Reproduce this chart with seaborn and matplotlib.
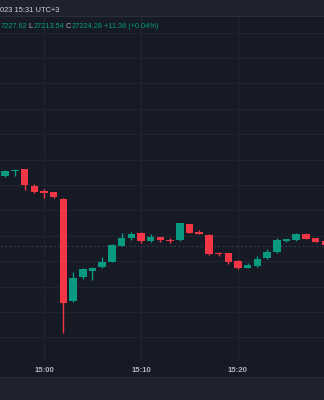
import matplotlib
matplotlib.use("Agg")
import matplotlib.pyplot as plt
from matplotlib.patches import Rectangle
from matplotlib.lines import Line2D
import seaborn as sns
import pandas as pd

# ---- data (minutes relative to 15:00, 1-minute candles) ----
minutes = list(range(-4, 30))
opens = [27233.5, 27235.3, 27236.3, 27229.6, 27227.6, 27227.2, 27224.5, 27184.3,
         27193.8, 27196.1, 27197.7, 27199.7, 27206.0, 27209.1, 27211.1, 27207.9,
         27209.5, 27208.3, 27208.3, 27214.6, 27211.5, 27210.3, 27203.2, 27203.2,
         27200.1, 27197.5, 27198.1, 27201.3, 27203.6, 27208.1, 27208.3, 27210.7,
         27209.1, 27207.9]
highs = [27235.9, 27236.4, 27236.4, 27230.4, 27228.4, 27227.4, 27224.7, 27195.7,
         27197.3, 27197.7, 27201.6, 27206.6, 27211.1, 27211.5, 27211.5, 27210.7,
         27209.7, 27209.1, 27215.2, 27214.8, 27212.3, 27210.5, 27203.6, 27203.4,
         27200.3, 27199.3, 27202.0, 27204.8, 27209.1, 27208.7, 27211.1, 27210.9,
         27209.3, 27208.1]
lows = [27233.3, 27233.7, 27228.0, 27227.0, 27224.9, 27225.0, 27171.7, 27183.9,
        27193.0, 27192.6, 27197.3, 27199.5, 27205.8, 27208.3, 27207.2, 27207.7,
        27207.5, 27207.2, 27208.1, 27210.9, 27210.5, 27202.6, 27202.2, 27198.9,
        27197.1, 27197.3, 27197.9, 27200.9, 27203.4, 27207.7, 27208.1, 27208.7,
        27207.5, 27206.2]
closes = [27235.5, 27235.9, 27230.0, 27227.2, 27226.7, 27225.3, 27183.5, 27193.4,
          27196.9, 27197.3, 27199.7, 27206.4, 27209.1, 27210.7, 27207.9, 27209.5,
          27208.3, 27207.9, 27215.0, 27211.1, 27210.7, 27202.8, 27202.8, 27199.7,
          27197.3, 27198.5, 27200.9, 27203.6, 27208.3, 27208.3, 27210.7, 27208.9,
          27207.7, 27206.4]
time_ticks = [0, 10, 20]
time_labels = ["15:00", "15:10", "15:20"]
price_grid = list(range(27170, 27300, 10))
marker_price = 27206.0
header_text = "023 15:31 UTC+3"
legend_parts = [("7227.62", "value"), (" L", "label"), ("27213.54", "value"),
                (" C", "label"), ("27224.28", "value"), (" +11.36 (+0.04%)", "value")]

# ---- style ----
BG = "#161a25"
PANEL = "#1e222d"
BORDER = "#2a2e39"
GRID = "#20242f"
UP = "#089981"
DOWN = "#f23645"
TXT = "#d1d4dc"
TXT2 = "#b2b5be"

sns.set_theme(style="dark", rc={"axes.facecolor": BG, "figure.facecolor": BG})
plt.rcParams["font.family"] = ["Liberation Sans", "DejaVu Sans"]

df = pd.DataFrame({"m": minutes, "open": opens, "high": highs,
                   "low": lows, "close": closes})
df["up"] = df["close"] >= df["open"]
df["color"] = df["up"].map({True: UP, False: DOWN})
df["bottom"] = df[["open", "close"]].min(axis=1)
df["height"] = (df["close"] - df["open"]).abs().clip(lower=0.5)

fig = plt.figure(figsize=(3.24, 4.0), dpi=100)
fig.patch.set_facecolor(BG)
ax = fig.add_axes([0, 0.10, 1, 0.86])
ax.set_facecolor(BG)

ax.set_xlim(-4.536, 28.866)
ax.set_ylim(27161.1, 27296.5)

ax.set_yticks(price_grid)
ax.set_xticks(time_ticks)
ax.set_xticklabels(time_labels)
ax.grid(True, color=GRID, lw=0.9)
ax.set_axisbelow(True)
ax.tick_params(axis="y", left=False, labelleft=False)
ax.tick_params(axis="x", bottom=False, length=0, pad=5, labelsize=5.6,
               labelcolor=TXT2)
for lab in ax.get_xticklabels():
    lab.set_fontweight("bold")
for s in ax.spines.values():
    s.set_visible(False)

ax.axhline(marker_price, color="#343844", lw=0.8, dashes=(2, 2), zorder=1)

ax.vlines(df["m"], df["low"], df["high"], colors=df["color"], lw=1.0, zorder=2)
ax.bar(df["m"], df["height"], bottom=df["bottom"], width=0.77,
       color=df["color"], linewidth=0, zorder=3)

# header band
fig.patches.append(Rectangle((0, 384 / 400), 1, 16 / 400, transform=fig.transFigure,
                             facecolor=PANEL, edgecolor="none", zorder=5))
fig.lines.append(Line2D([0, 1], [384 / 400, 384 / 400], transform=fig.transFigure,
                        color=BORDER, lw=0.8, zorder=6))
fig.text(0.5 / 324, 1 - 10 / 400, header_text, ha="left", va="center",
         fontsize=5.4, color=TXT, zorder=7)

# bottom band
fig.patches.append(Rectangle((0, 0), 1, 23 / 400, transform=fig.transFigure,
                             facecolor=PANEL, edgecolor="none", zorder=5))
fig.lines.append(Line2D([0, 1], [23 / 400, 23 / 400], transform=fig.transFigure,
                        color=BORDER, lw=0.8, zorder=6))

# legend line (OHLC)
prev = None
for txt, kind in legend_parts:
    col = UP if kind == "value" else TXT2
    if prev is None:
        prev = fig.text(0.5 / 324, 1 - 28.5 / 400, txt, ha="left", va="baseline",
                        fontsize=5.3, color=col, zorder=7)
    else:
        prev = ax.annotate(txt, xy=(1, 0), xycoords=prev, ha="left", va="bottom",
                           fontsize=5.3, color=col, zorder=7,
                           annotation_clip=False)

fig.savefig("out.png", dpi=100, facecolor=BG)
